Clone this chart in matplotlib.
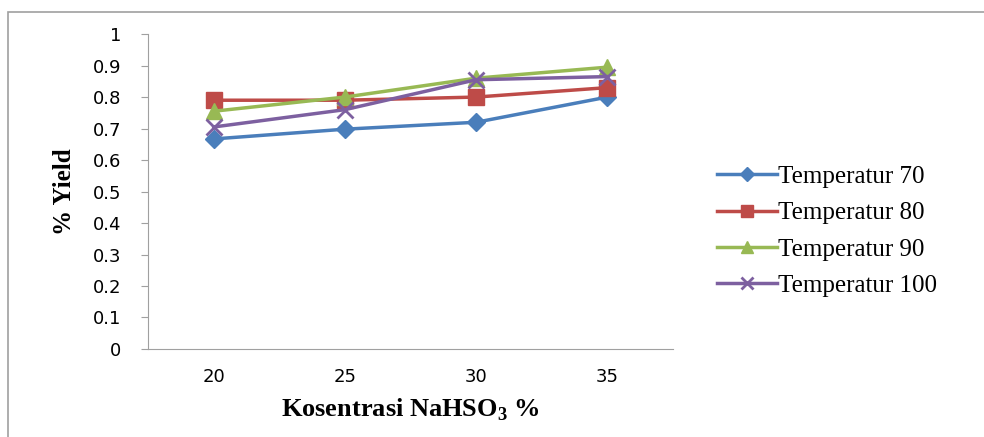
import matplotlib.pyplot as plt
from matplotlib.patches import Rectangle

plt.rcParams['mathtext.fontset'] = 'custom'
plt.rcParams['mathtext.rm'] = 'Liberation Serif'
plt.rcParams['mathtext.bf'] = 'Liberation Serif:bold'

concentrations = ['20', '25', '30', '35']
series_labels = ['Temperatur 70', 'Temperatur 80', 'Temperatur 90', 'Temperatur 100']
yield_70 = [0.667, 0.698, 0.72, 0.80]
yield_80 = [0.79, 0.79, 0.80, 0.83]
yield_90 = [0.755, 0.80, 0.86, 0.895]
yield_100 = [0.705, 0.76, 0.855, 0.865]

colors = ['#4A7EBB', '#BE4B48', '#98B954', '#7D60A0']
markers = ['D', 's', '^', 'x']
sizes = [9, 11, 11, 11]

fig = plt.figure(figsize=(9.84, 4.37), dpi=100)
fig.patches.append(Rectangle((8 / 984, -0.1), 1.1, (437 - 12) / 437 + 0.1,
                             transform=fig.transFigure, fill=False,
                             edgecolor='#A0A0A0', linewidth=1.2))
ax = fig.add_axes([0.1504, 0.2014, 0.5336, 0.7206])

x = range(len(concentrations))
for vals, lab, c, m, s in zip([yield_70, yield_80, yield_90, yield_100],
                              series_labels, colors, markers, sizes):
    ax.plot(x, vals, color=c, marker=m, markersize=s, linewidth=2.5,
            markeredgewidth=2 if m == 'x' else 1, label=lab)

ax.set_xlim(-0.5, 3.5)
ax.set_ylim(0, 1)
ax.set_xticks(list(x))
ax.set_xticklabels(concentrations)
ax.set_yticks([i / 10 for i in range(11)])
ax.set_yticklabels(['0', '0.1', '0.2', '0.3', '0.4', '0.5', '0.6', '0.7', '0.8', '0.9', '1'])
for sp in ['top', 'right']:
    ax.spines[sp].set_visible(False)
for sp in ['left', 'bottom']:
    ax.spines[sp].set_color('#A0A0A0')
ax.tick_params(axis='y', length=5, color='#A0A0A0', labelsize=13, pad=14)
ax.tick_params(axis='x', length=0, labelsize=13, pad=14)
for t in ax.get_xticklabels() + ax.get_yticklabels():
    t.set_family('DejaVu Sans')

ax.set_xlabel(r'Kosentrasi NaHSO$_\mathbf{3}$ %', fontsize=19, fontweight='bold',
              family='Liberation Serif', labelpad=7)
ax.set_ylabel('% Yield', fontsize=18, fontweight='bold',
              family='Liberation Serif', labelpad=12)

ax.legend(loc='center left', bbox_to_anchor=(1.04, 0.374), frameon=False,
          prop={'family': 'Liberation Serif', 'size': 18}, handlelength=2.4,
          handletextpad=0.05, labelspacing=0.55, markerscale=0.75)

fig.savefig('out.png', dpi=100)
